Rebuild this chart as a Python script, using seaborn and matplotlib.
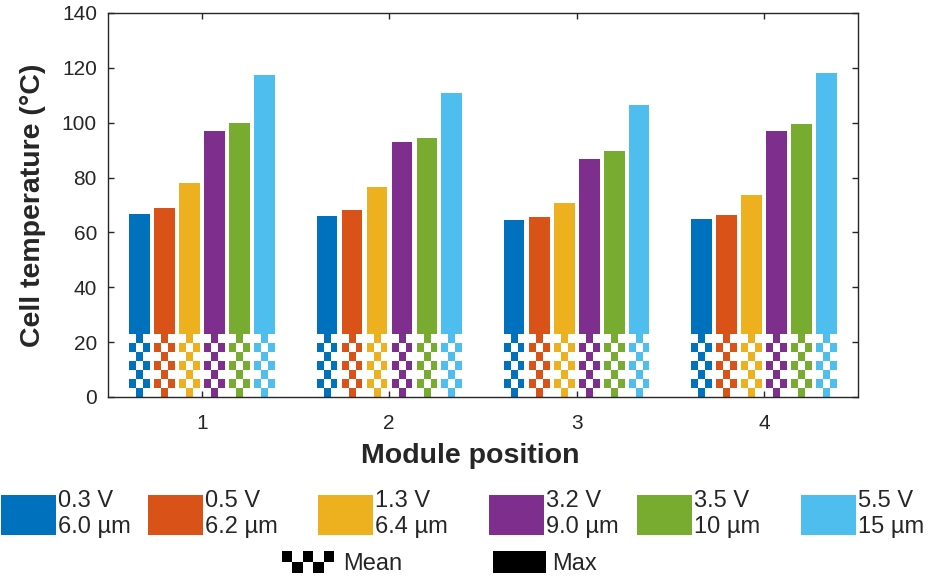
import numpy as np
import pandas as pd
import matplotlib
matplotlib.use("Agg")
import matplotlib.pyplot as plt
import seaborn as sns
from matplotlib.patches import Patch, Rectangle
from matplotlib.legend_handler import HandlerBase

# ---------------- data ----------------
positions = ["1", "2", "3", "4"]
series = ["0.3 V\n6.0 µm", "0.5 V\n6.2 µm", "1.3 V\n6.4 µm",
          "3.2 V\n9.0 µm", "3.5 V\n10 µm", "5.5 V\n15 µm"]
colors = ["#0072BD", "#D95319", "#EDB120", "#7E2F8E", "#77AC30", "#4DBEEE"]

# maximum cell temperature per series, for module positions 1..4
max_03V = [66.8, 65.9, 64.6, 65.0]
max_05V = [69.0, 68.1, 65.6, 66.4]
max_13V = [78.2, 76.4, 70.7, 73.7]
max_32V = [97.0, 92.9, 86.8, 96.8]
max_35V = [99.9, 94.5, 89.8, 99.6]
max_55V = [117.3, 110.8, 106.3, 118.3]

# mean cell temperature per series, for module positions 1..4
mean_03V = [22.9, 22.9, 22.9, 22.9]
mean_05V = [22.9, 22.9, 22.9, 22.9]
mean_13V = [22.9, 22.9, 22.9, 22.9]
mean_32V = [22.9, 22.9, 22.9, 22.9]
mean_35V = [22.9, 22.9, 22.9, 22.9]
mean_55V = [22.9, 22.9, 22.9, 22.9]

yticks = [0, 20, 40, 60, 80, 100, 120, 140]

max_all = [max_03V, max_05V, max_13V, max_32V, max_35V, max_55V]
mean_all = [mean_03V, mean_05V, mean_13V, mean_32V, mean_35V, mean_55V]
rows = []
for s, mx, mn in zip(series, max_all, mean_all):
    for p, a, b in zip(positions, mx, mn):
        rows.append({"position": p, "series": s, "max": a, "mean": b})
df = pd.DataFrame(rows)

# ---------------- style ----------------
sns.set_style("white")
plt.rcParams["font.family"] = ["Liberation Sans", "DejaVu Sans"]
dark = "#262626"

fig = plt.figure(figsize=(9.33, 5.79), dpi=100)
ax = fig.add_axes([108 / 933, 1 - 397 / 579, 750 / 933, 384 / 579])

sns.barplot(data=df, x="position", y="max", hue="series", order=positions,
            hue_order=series, palette=colors, saturation=1, width=0.8,
            gap=0.18, edgecolor="none", legend=False, ax=ax, errorbar=None)
sns.barplot(data=df, x="position", y="mean", hue="series", order=positions,
            hue_order=series, palette=colors, saturation=1, width=0.8,
            gap=0.18, edgecolor="none", legend=False, ax=ax, errorbar=None)

# checkerboard overlay on the mean bars
nrow, ncol = 7, 3
mask = (np.add.outer(np.arange(nrow), np.arange(ncol)) % 2) == 0
img = np.zeros((nrow, ncol, 4))
img[mask] = [1, 1, 1, 1]
for cont in ax.containers[len(series):]:
    for patch in cont.patches:
        x0, w, h = patch.get_x(), patch.get_width(), patch.get_height()
        ax.imshow(img, extent=(x0, x0 + w, 0, h), aspect="auto",
                  interpolation="nearest", zorder=patch.get_zorder() + 0.1)

ax.set_xlim(-0.5, len(positions) - 0.5)
ax.set_ylim(0, 140)
ax.set_yticks(yticks)
ax.set_xticks(range(len(positions)))
ax.set_xticklabels(positions)

for sp in ax.spines.values():
    sp.set_visible(True)
    sp.set_color(dark)
    sp.set_linewidth(1.0)
ax.tick_params(axis="both", direction="in", length=4.5, width=1.0,
               color=dark, labelcolor=dark, labelsize=15)
ax.tick_params(axis="x", top=True, bottom=True, pad=12.5)
ax.tick_params(axis="y", left=True, right=True, pad=8)

ax.set_xlabel("Module position", fontsize=20.5, fontweight="bold", color=dark)
ax.set_ylabel("Cell temperature (°C)", fontsize=20.5, fontweight="bold", color=dark)
ax.xaxis.set_label_coords(0.483, -0.12)
ax.yaxis.set_label_coords(-0.082, 0.5)

# ---------------- legends ----------------
leg_x = [1, 148, 318, 489, 637, 801]
for lab, col, xl in zip(series, colors, leg_x):
    fig.legend(handles=[Patch(facecolor=col, edgecolor="none")], labels=[lab],
               loc="center left", bbox_to_anchor=(xl / 933, 1 - 514 / 579),
               bbox_transform=fig.transFigure, frameon=False, fontsize=17,
               handlelength=2.33, handleheight=2.25, handletextpad=0.1,
               borderpad=0, borderaxespad=0)


class CheckerHandler(HandlerBase):
    def create_artists(self, legend, orig_handle, xdescent, ydescent,
                       width, height, fontsize, trans):
        arts = []
        nc, nr = 5, 2
        cw, rh = width / nc, height / nr
        for r in range(nr):
            for c in range(nc):
                if (r + c) % 2 == 1:
                    arts.append(Rectangle((-xdescent + c * cw, -ydescent + r * rh),
                                          cw, rh, facecolor="black",
                                          edgecolor="none", transform=trans))
        return arts


class CheckerKey:
    pass


fig.legend(handles=[CheckerKey()], labels=["Mean"],
           handler_map={CheckerKey: CheckerHandler()},
           loc="center left", bbox_to_anchor=(282 / 933, 1 - 563 / 579),
           bbox_transform=fig.transFigure, frameon=False, fontsize=17,
           handlelength=2.2, handleheight=1.05, handletextpad=0.4,
           borderpad=0, borderaxespad=0)
fig.legend(handles=[Patch(facecolor="black", edgecolor="none")], labels=["Max"],
           loc="center left", bbox_to_anchor=(493 / 933, 1 - 563 / 579),
           bbox_transform=fig.transFigure, frameon=False, fontsize=17,
           handlelength=2.25, handleheight=1.05, handletextpad=0.25,
           borderpad=0, borderaxespad=0)

fig.savefig("out.png", dpi=100)
